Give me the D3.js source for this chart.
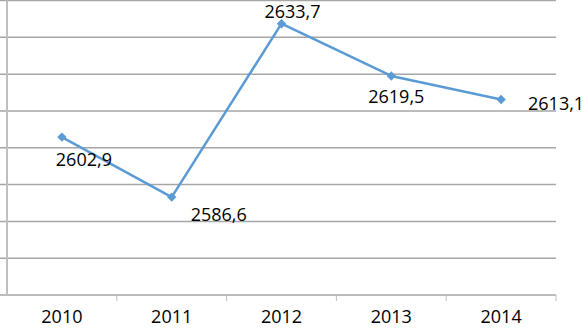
<!DOCTYPE html>
<html>

<head>
  <script src="https://d3js.org/d3.v7.min.js"></script>
  <style>
    body { margin: 0; background: #fff; }
    svg { display: block; }
    text { font-family: "Open Sans", sans-serif; fill: #000; }
  </style>
</head>

<body>
  <script>
    const years = ["2010", "2011", "2012", "2013", "2014"];
    const values = [2602.9, 2586.6, 2633.7, 2619.5, 2613.1];
    const yTicks = [2560, 2570, 2580, 2590, 2600, 2610, 2620, 2630, 2640];

    // label offsets relative to point (dx = text centre, dy = baseline)
    const labelOffsets = [[22, 29], [47, 24], [11, -6], [5, 27], [55, 10]];

    const W = 584, H = 328;
    const margin = { top: 0.5, right: 28, bottom: 33, left: 7 };
    const width = W - margin.left - margin.right;
    const height = H - margin.top - margin.bottom;

    const svg = d3.select("body").append("svg")
      .attr("width", W).attr("height", H);
    const g = svg.append("g")
      .attr("transform", `translate(${margin.left},${margin.top})`);

    const x = d3.scaleBand().domain(years).range([0, width]);
    const y = d3.scaleLinear().domain([2560, 2640]).range([height, 0]);

    // gridlines
    g.selectAll(".grid").data(yTicks).enter().append("line")
      .attr("x1", -7).attr("x2", width)
      .attr("y1", d => y(d)).attr("y2", d => y(d))
      .attr("stroke", "#a6a6a6").attr("stroke-width", 1.5);

    // y axis line
    g.append("line")
      .attr("x1", 0).attr("x2", 0).attr("y1", 0).attr("y2", height)
      .attr("stroke", "#bfbfbf").attr("stroke-width", 2);

    // x axis
    const xAxis = g.append("g")
      .attr("transform", `translate(0,${height})`)
      .call(d3.axisBottom(x).tickSize(0));
    xAxis.select(".domain").remove();
    xAxis.selectAll("text")
      .attr("y", 28).attr("dy", 0)
      .attr("font-family", "Open Sans")
      .style("font-size", "18px");
    const bounds = years.map(d => x(d)).concat([width]).slice(1);
    g.selectAll(".xtick").data(bounds).enter().append("line")
      .attr("x1", d => d).attr("x2", d => d)
      .attr("y1", height).attr("y2", height + 6)
      .attr("stroke", "#bfbfbf").attr("stroke-width", 1);

    const cx = d => x(d) + x.bandwidth() / 2;

    const line = d3.line()
      .x((d, i) => cx(years[i]))
      .y(d => y(d));

    g.append("path").datum(values)
      .attr("fill", "none")
      .attr("stroke", "#5b9bd5")
      .attr("stroke-width", 2.5)
      .attr("stroke-linejoin", "round")
      .attr("d", line);

    g.selectAll(".pt").data(values).enter().append("path")
      .attr("transform", (d, i) => `translate(${cx(years[i])},${y(d)}) rotate(45)`)
      .attr("d", d3.symbol().type(d3.symbolSquare).size(44))
      .attr("fill", "#5b9bd5");

    g.selectAll(".lbl").data(values).enter().append("text")
      .attr("x", (d, i) => cx(years[i]) + labelOffsets[i][0])
      .attr("y", (d, i) => y(d) + labelOffsets[i][1])
      .attr("text-anchor", "middle")
      .style("font-size", "18px")
      .text(d => d.toFixed(1).replace(".", ","));
  </script>
</body>

</html>
